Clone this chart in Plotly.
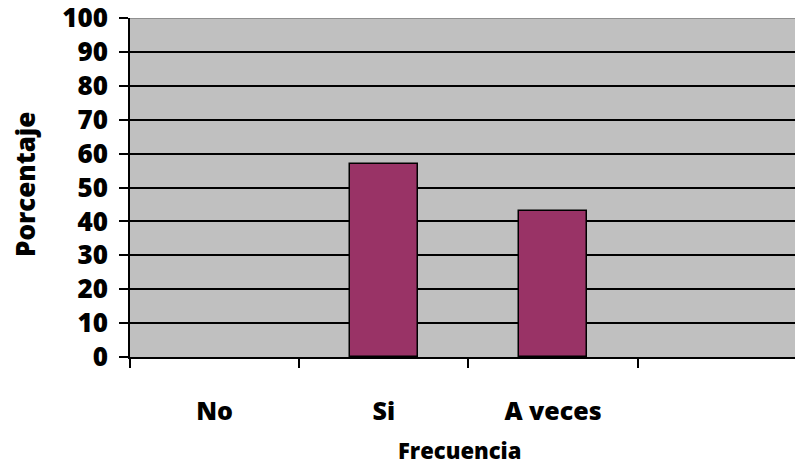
import plotly.graph_objects as go

categorias = ["No", "Si", "A veces"]
porcentajes = [0, 57, 43]
y_ticks = list(range(0, 101, 10))

posiciones = list(range(len(categorias)))
limites = [p - 0.5 for p in range(len(categorias) + 1)]

fuente = "Open Sans"
peso = 800

fig = go.Figure()
fig.add_trace(go.Bar(
    x=posiciones,
    y=porcentajes,
    width=0.4,
    marker=dict(
        color="#993366",
        # no outline for empty bars, so a zero value leaves no mark
        line=dict(color="black", width=[1.5 if v > 0 else 0 for v in porcentajes]),
    ),
    showlegend=False,
))

fig.update_layout(
    width=795,
    height=466,
    margin=dict(l=130, r=0, t=18, b=109),
    paper_bgcolor="white",
    plot_bgcolor="#C0C0C0",
    font=dict(family=fuente, color="black"),
    bargap=0,
)

fig.update_xaxes(
    range=[-0.5, 3.43],
    tickmode="array",
    tickvals=posiciones,
    ticktext=categorias,
    ticks="",
    ticklabelstandoff=31,
    tickfont=dict(family=fuente, size=25, weight=peso),
    showgrid=False,
    zeroline=False,
    showline=True,
    linecolor="black",
    linewidth=1.5,
    minor=dict(tickmode="array", tickvals=limites, ticks="outside",
               ticklen=9, tickcolor="black", tickwidth=1.5, showgrid=False),
)

fig.update_yaxes(
    range=[0, 100],
    tickmode="array",
    tickvals=y_ticks,
    ticks="outside",
    ticklen=9,
    tickwidth=1.5,
    tickcolor="black",
    ticklabelstandoff=6,
    ticklabeloverflow="allow",
    tickfont=dict(family=fuente, size=26, weight=peso),
    showgrid=True,
    gridcolor="black",
    gridwidth=1.5,
    zeroline=False,
    showline=True,
    linecolor="black",
    linewidth=1.5,
)

# axis titles
fig.add_annotation(text="Frecuencia", xref="paper", yref="paper",
                   x=(459 - 130) / 665, y=-(450 - 357) / 339,
                   showarrow=False, xanchor="center", yanchor="middle",
                   font=dict(family=fuente, size=22, weight=peso))
fig.add_annotation(text="Porcentaje", xref="paper", yref="paper",
                   x=-(130 - 25) / 665, y=(357 - 185) / 339, textangle=-90,
                   showarrow=False, xanchor="center", yanchor="middle",
                   font=dict(family=fuente, size=26, weight=peso))

# thin gray border along the top of the plotting area
fig.add_shape(type="line", xref="paper", yref="y", x0=0, x1=1, y0=100, y1=100,
              line=dict(color="#808080", width=1.5))

fig.write_html("out.html")
